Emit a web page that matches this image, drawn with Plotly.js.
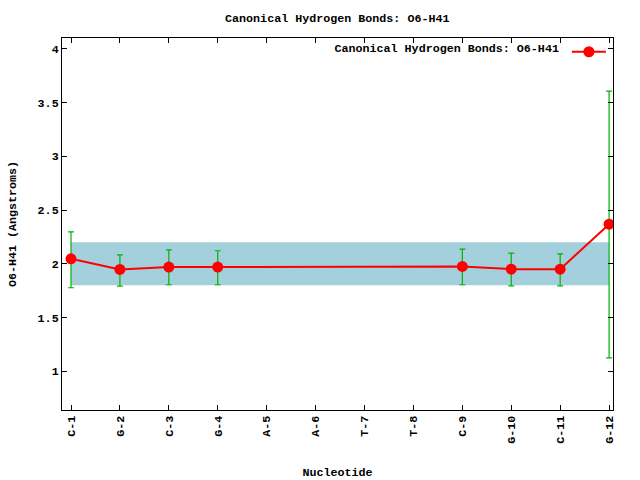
<!DOCTYPE html>
<html>
<head>
<meta charset="utf-8">
<script src="https://cdn.plot.ly/plotly-3.0.1.min.js"></script>
<style>html,body{margin:0;padding:0;background:#fff;}#chart{width:640px;height:480px;}</style>
</head>
<body>
<div id="chart"></div>
<script>
var categories = ["C-1","G-2","C-3","G-4","A-5","A-6","T-7","T-8","C-9","G-10","C-11","G-12"];
var pointLabels = ["C-1","G-2","C-3","G-4","C-9","G-10","C-11","G-12"];
var meanValues = [2.046, 1.947, 1.969, 1.969, 1.975, 1.950, 1.950, 2.368];
var errUpper = [2.297, 2.083, 2.130, 2.121, 2.136, 2.099, 2.093, 3.606];
var errLower = [1.777, 1.793, 1.805, 1.805, 1.805, 1.795, 1.795, 1.124];
var bandX = ["C-1","G-12"];
var bandLow = [1.8, 1.8];
var bandHigh = [2.2, 2.2];
var seriesName = "Canonical Hydrogen Bonds: O6-H41";

var plus = meanValues.map(function(v,i){return errUpper[i]-v;});
var minus = meanValues.map(function(v,i){return v-errLower[i];});

var font = {family: "Liberation Mono", size: 11.7, color: "#000"};

var traces = [
  {x: bandX, y: bandLow, type: "scatter", mode: "lines", line: {width: 0, color: "#a4d0de"}, showlegend: false, hoverinfo: "skip"},
  {x: bandX, y: bandHigh, type: "scatter", mode: "lines", fill: "tonexty", fillcolor: "#a4d0de", line: {width: 0, color: "#a4d0de"}, showlegend: false, hoverinfo: "skip"},
  {x: pointLabels, y: meanValues, type: "scatter", mode: "lines+markers", name: " ",
   line: {color: "#ff0000", width: 2},
   marker: {color: "#ff0000", size: 11},
   error_y: {type: "data", symmetric: false, array: plus, arrayminus: minus, color: "#00b400", thickness: 1.2, width: 3}}
];

var layout = {
  width: 640, height: 480,
  margin: {l: 62, r: 27, t: 38, b: 70},
  paper_bgcolor: "#fff", plot_bgcolor: "#fff",
  font: font,
  title: {text: "<b>Canonical Hydrogen Bonds: O6-H41</b>", x: 0.527, xanchor: "center", y: 0.963, yanchor: "middle", font: font},
  xaxis: {
    type: "category", categoryorder: "array", categoryarray: categories,
    tickvals: categories, ticktext: categories.map(function(c){return "<b>"+c+"</b>";}),
    range: [-0.184, 11.08], tickangle: -90,
    showline: true, linecolor: "#000", linewidth: 1, mirror: "ticks",
    ticks: "inside", ticklen: 5, tickcolor: "#000", showgrid: false, zeroline: false,
    tickfont: font,
    title: {text: "<b>Nucleotide</b>", font: font, standoff: 28}
  },
  yaxis: {
    range: [0.64, 4.10], tickvals: [1,1.5,2,2.5,3,3.5,4],
    ticktext: ["<b>1</b>","<b>1.5</b>","<b>2</b>","<b>2.5</b>","<b>3</b>","<b>3.5</b>","<b>4</b>"],
    showline: true, linecolor: "#000", linewidth: 1, mirror: "ticks",
    ticks: "inside", ticklen: 5, tickcolor: "#000", showgrid: false, zeroline: false,
    tickfont: font,
    title: {text: "<b>O6-H41 (Angstroms)</b>", font: font, standoff: 18}
  },
  showlegend: true,
  legend: {
    x: 1.019, xanchor: "right", y: 1.002, yanchor: "top",
    bgcolor: "rgba(0,0,0,0)", borderwidth: 0,
    title: {text: "<b>" + seriesName + "</b>", side: "left", font: font},
    font: font, itemwidth: 34
  }
};

Plotly.newPlot("chart", traces, layout, {displayModeBar: false, staticPlot: true});
</script>
</body>
</html>
